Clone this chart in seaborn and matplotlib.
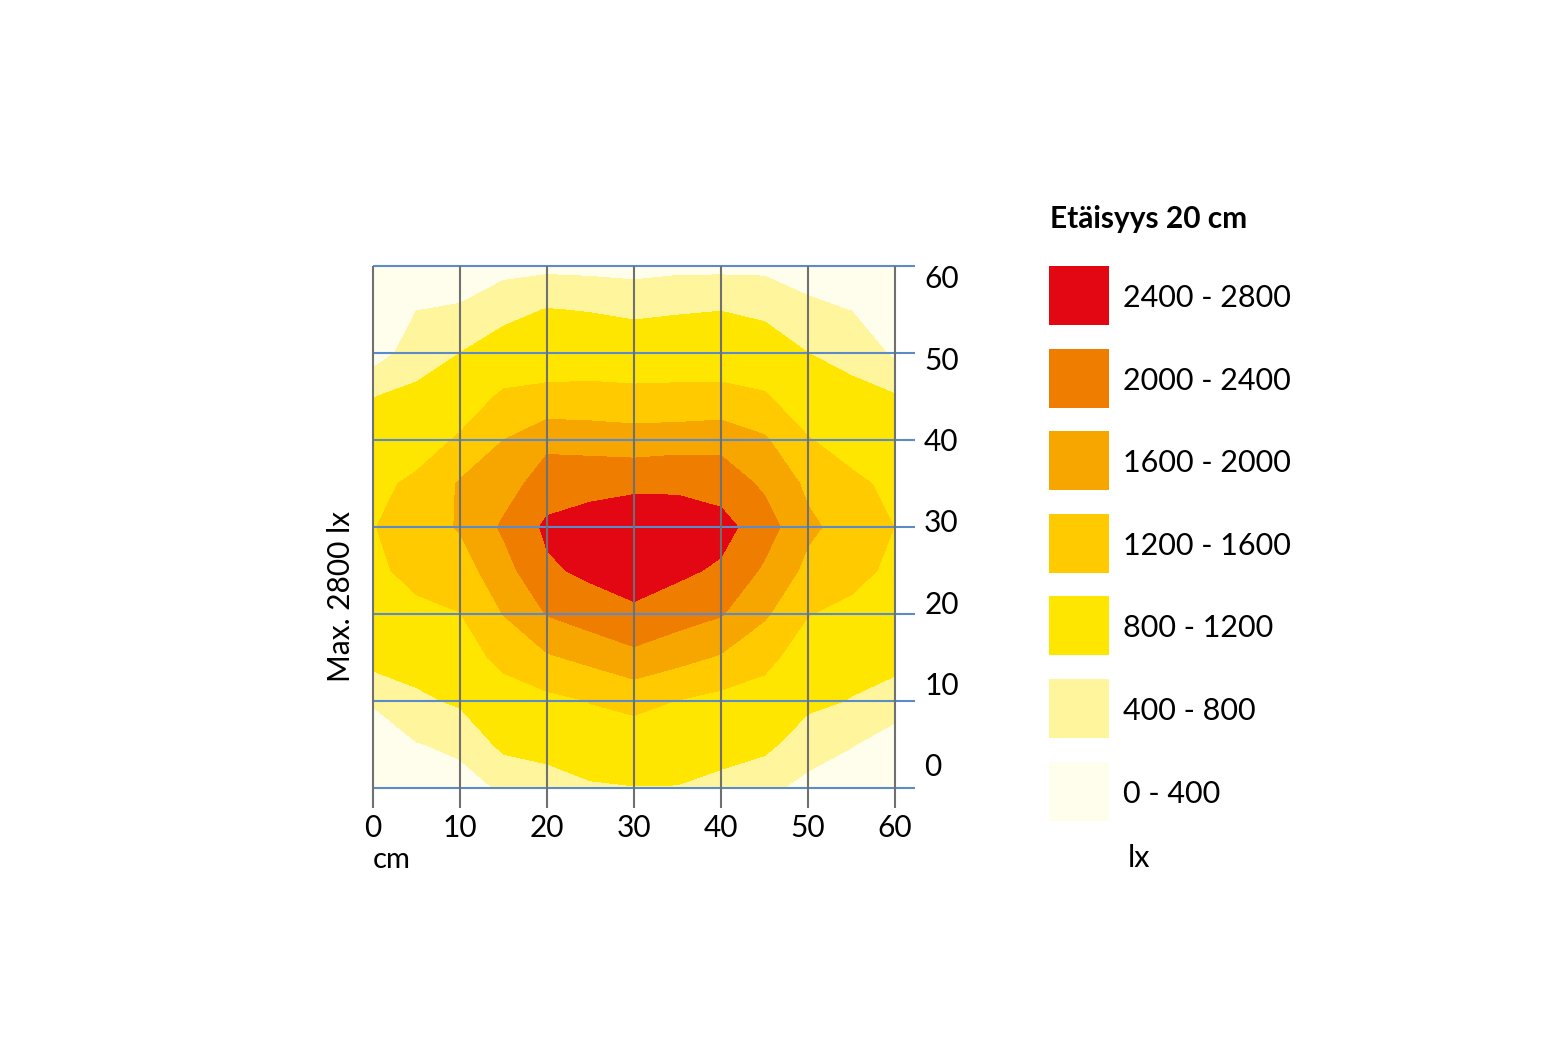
import matplotlib
matplotlib.use("Agg")
import matplotlib.pyplot as plt
from matplotlib.patches import Rectangle
import seaborn as sns

# mittauspisteet (cm)
x_cm = [0, 5, 10, 15, 20, 25, 30, 35, 40, 45, 50, 55, 60]
y_cm = [0, 5, 10, 15, 20, 25, 30, 35, 40, 45, 50, 55, 60]

# valaistusvoimakkuus (lx), rivit y = 0 ... 60
lux = [
    [100, 200, 250, 450, 550, 750, 790, 780, 650, 480, 300, 150, 80],
    [150, 380, 480, 900, 1000, 1050, 1000, 1060, 1000, 910, 560, 420, 220],
    [440, 720, 860, 1020, 1100, 1210, 1300, 1190, 1080, 1080, 900, 780, 580],
    [960, 980, 1030, 1300, 1550, 1700, 1900, 1720, 1560, 1280, 1050, 960, 960],
    [1040, 1120, 1190, 1610, 2020, 2200, 2300, 2180, 2030, 1660, 1210, 1120, 1030],
    [1130, 1300, 1420, 1850, 2340, 2480, 2650, 2480, 2340, 1940, 1500, 1300, 1130],
    [1180, 1420, 1630, 2060, 2470, 2600, 2750, 2620, 2540, 2180, 1680, 1430, 1195],
    [1120, 1260, 1640, 1820, 2200, 2250, 2280, 2320, 2230, 1930, 1520, 1270, 1120],
    [1000, 1050, 1240, 1600, 1900, 1850, 1800, 1830, 1870, 1650, 1220, 1060, 1000],
    [790, 900, 1020, 1250, 1270, 1280, 1260, 1260, 1280, 1230, 1000, 900, 830],
    [200, 600, 800, 960, 1050, 1050, 1050, 1070, 1040, 980, 800, 690, 330],
    [150, 395, 420, 700, 810, 780, 720, 760, 790, 730, 470, 390, 150],
    [100, 250, 280, 250, 300, 280, 250, 300, 300, 300, 250, 200, 80],
]

levels = [0, 400, 800, 1200, 1600, 2000, 2400, 2800]
level_colors = ["#FFFDEB", "#FFF59D", "#FFE600", "#FFCB00", "#F7A600", "#EF7D00", "#E30613"]
level_labels = ["0 - 400", "400 - 800", "800 - 1200", "1200 - 1600",
                "1600 - 2000", "2000 - 2400", "2400 - 2800"]
grid_ticks = [0, 10, 20, 30, 40, 50, 60]

sns.set_theme(style="white")
plt.rcParams['font.family'] = ['Lato', 'DejaVu Sans']
plt.rcParams['text.color'] = 'black'
plt.rcParams['xtick.color'] = 'black'
plt.rcParams['ytick.color'] = 'black'

W, H = 1552, 1058
fig = plt.figure(figsize=(W / 100, H / 100), dpi=100)
ax = fig.add_axes([373 / W, 270 / H, 522 / W, 522 / H])

pal = sns.color_palette(level_colors)
ax.contourf(x_cm, y_cm, lux, levels=levels, colors=pal)
ax.set_xlim(0, 60)
ax.set_ylim(0, 60)

# ruudukko
ax.hlines(grid_ticks, 0, 62.3, colors="#5B8BC9", lw=1.5, clip_on=False, zorder=3)
ax.vlines(grid_ticks, -2.3, 60, colors="#707070", lw=1.5, clip_on=False, zorder=4)

for s in ax.spines.values():
    s.set_visible(False)
ax.set_xticks(grid_ticks)
ax.set_xticklabels([str(t) for t in grid_ticks], fontsize=21.5)
ax.set_yticks([])
ax.tick_params(axis='x', length=0, pad=19)

ax2 = ax.twinx()
ax2.set_ylim(-2.83, 61.35)
ax2.set_yticks(grid_ticks)
ax2.set_yticklabels([str(t) for t in grid_ticks], fontsize=21.5)
ax2.tick_params(axis='y', length=0, pad=21)
for s in ax2.spines.values():
    s.set_visible(False)

fig.text(341 / W, 1 - 597 / H, "Max. 2800 lx", rotation=90, ha='center', va='center',
         fontsize=21.5)
fig.text(373 / W, 1 - 860 / H, "cm", ha='left', va='center', fontsize=21)

# selite
fig.text(1050 / W, 1 - 219 / H, "Etäisyys 20 cm", ha='left', va='center',
         fontsize=21.5, fontweight='bold')
for i, (c, lab) in enumerate(zip(level_colors[::-1], level_labels[::-1])):
    top = 266 + i * 82.6
    fig.add_artist(Rectangle((1049 / W, 1 - (top + 59) / H), 60 / W, 59 / H,
                             transform=fig.transFigure, color=c, lw=0))
    fig.text(1123 / W, 1 - (top + 32) / H, lab, ha='left', va='center', fontsize=22)
fig.text(1128 / W, 1 - 858 / H, "lx", ha='left', va='center', fontsize=22)

plt.savefig('out.png', dpi=100)
